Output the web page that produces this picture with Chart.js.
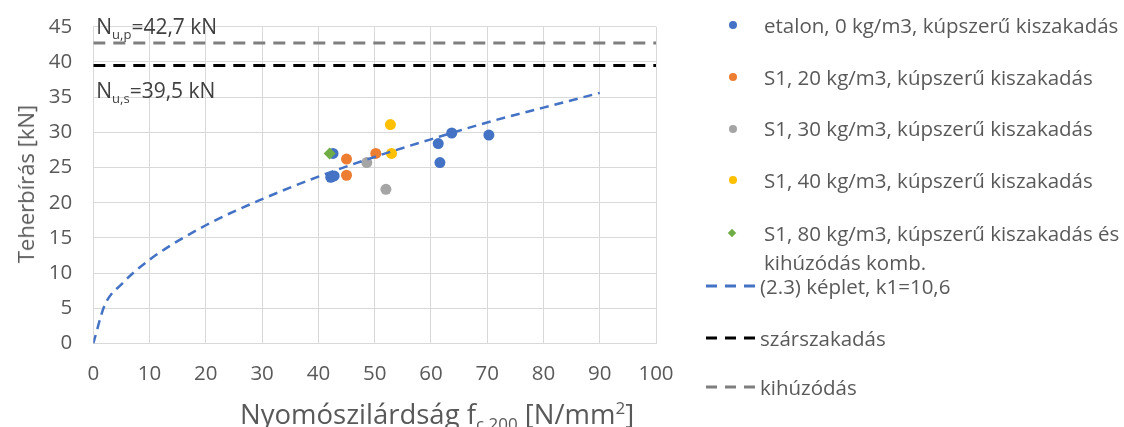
<!DOCTYPE html>
<html>
<head>
<meta charset="utf-8">
<script src="https://cdn.jsdelivr.net/npm/chart.js@4.4.1/dist/chart.umd.min.js"></script>
<style>
  html, body { margin: 0; padding: 0; background: #ffffff; }
  #wrap { position: relative; width: 1124px; height: 427px; overflow: hidden; font-family: "Open Sans", Lato, sans-serif; color: #595959; }
  #c { position: absolute; left: 0; top: 0; }
  .lg { position: absolute; left: 700px; font-size: 20.5px; white-space: nowrap; line-height: 29px; }
  .lg .mk { position: absolute; line-height: 0; }
  .lg .mk svg { display: block; }
  .lg .tx { position: absolute; left: 64px; top: 0; }
  #ytitle { position: absolute; left: 25px; top: 184px; transform: translate(-50%, -50%) rotate(-90deg); font-size: 22px; white-space: nowrap; line-height: 26px; }
  #xtitle { position: absolute; left: 240px; top: 392px; font-size: 27.5px; white-space: nowrap; line-height: 32px; }
  #xtitle sub { font-size: 17px; vertical-align: -6px; }
  #xtitle sup { font-size: 17px; vertical-align: 10px; }
</style>
</head>
<body>
<div id="wrap">
  <canvas id="c" width="1124" height="427"></canvas>
  <div id="ytitle">Teherbírás [kN]</div>
  <div id="xtitle">Nyomószilárdság f<sub>c,200</sub> [N/mm<sup>2</sup>]</div>
  <div id="legend"></div>
</div>
<script>
// ---- data ----
const etalonX = [42.2, 42.8, 42.6, 61.3, 61.6, 63.7, 70.3];
const etalonY = [23.6, 23.8, 27.0, 28.4, 25.7, 29.9, 29.6];
const s20X = [45.0, 45.0, 50.2];
const s20Y = [26.2, 23.9, 27.0];
const s30X = [48.6, 52.0];
const s30Y = [25.7, 21.9];
const s40X = [52.8, 53.0];
const s40Y = [31.1, 27.0];
const s80X = [42.0];
const s80Y = [27.0];
const curveX = [0, 2, 5, 10, 20, 30, 40, 50, 60, 70, 80, 90];
const curveY = [0, 5.4, 8.4, 11.9, 16.8, 20.5, 23.7, 26.5, 29.0, 31.4, 33.5, 35.6];
const limitX = [0, 100];
const szarY = [39.5, 39.5];
const kihuzY = [42.7, 42.7];
const xRange = [0, 100];
const xStep = 10;
const yRange = [0, 45];
const yStep = 5;
const labels = [
  'etalon, 0 kg/m3, kúpszerű kiszakadás',
  'S1, 20 kg/m3, kúpszerű kiszakadás',
  'S1, 30 kg/m3, kúpszerű kiszakadás',
  'S1, 40 kg/m3, kúpszerű kiszakadás',
  'S1, 80 kg/m3, kúpszerű kiszakadás és\nkihúzódás komb.',
  '(2.3) képlet, k1=10,6',
  'szárszakadás',
  'kihúzódás'
];
const nupLabel = ['N', 'u,p', '=42,7 kN'];
const nusLabel = ['N', 'u,s', '=39,5 kN'];

// ---- build ----
const pts = (xs, ys) => xs.map((x, i) => ({ x: x, y: ys[i] }));
const colors = ['#4472C4', '#ED7D31', '#A5A5A5', '#FFC000', '#70AD47', '#4472C4', '#000000', '#7F7F7F'];

function scatterDs(i, xs, ys, style, order) {
  return {
    label: labels[i], data: pts(xs, ys), showLine: false,
    pointStyle: style, pointRadius: style === 'rectRot' ? 6 : 5.5,
    backgroundColor: colors[i], borderColor: colors[i], borderWidth: 0, order: order
  };
}
function lineDs(i, xs, ys, dash, width, order) {
  return {
    label: labels[i], data: pts(xs, ys), showLine: true, pointRadius: 0,
    borderColor: colors[i], backgroundColor: colors[i], borderWidth: width,
    borderDash: dash, cubicInterpolationMode: 'monotone', order: order
  };
}

const datasets = [
  scatterDs(0, etalonX, etalonY, 'circle', 7),
  scatterDs(1, s20X, s20Y, 'circle', 6),
  scatterDs(2, s30X, s30Y, 'circle', 5),
  scatterDs(3, s40X, s40Y, 'circle', 4),
  scatterDs(4, s80X, s80Y, 'rectRot', 3),
  lineDs(5, curveX, curveY, [9, 6], 2.5, 2),
  lineDs(6, limitX, szarY, [12, 8], 3, 1),
  lineDs(7, limitX, kihuzY, [12, 8], 3, 0)
];

const FONT = '"Open Sans", Lato, sans-serif';

const annotPlugin = {
  id: 'annot',
  afterDatasetsDraw(chart) {
    const ctx = chart.ctx;
    const xs = chart.scales.x, ys = chart.scales.y;
    function drawSub(parts, x, baseline) {
      ctx.save();
      ctx.fillStyle = '#404040';
      ctx.textBaseline = 'alphabetic';
      ctx.textAlign = 'left';
      ctx.font = '21px ' + FONT;
      ctx.fillText(parts[0], x, baseline);
      let cx = x + ctx.measureText(parts[0]).width;
      ctx.font = '13px ' + FONT;
      ctx.fillText(parts[1], cx, baseline + 5);
      cx += ctx.measureText(parts[1]).width;
      ctx.font = '21px ' + FONT;
      ctx.fillText(parts[2], cx, baseline);
      ctx.restore();
    }
    const x0 = xs.getPixelForValue(xRange[0]) + 3;
    drawSub(nupLabel, x0, ys.getPixelForValue(kihuzY[0]) - 9);
    drawSub(nusLabel, x0, ys.getPixelForValue(szarY[0]) + 33);
  }
};

function zeroPad(s) { s.paddingTop = 0; s.paddingBottom = 0; s.paddingLeft = 0; s.paddingRight = 0; }

new Chart(document.getElementById('c'), {
  type: 'scatter',
  data: { datasets: datasets },
  options: {
    responsive: false,
    animation: false,
    events: [],
    layout: { padding: { left: 0, top: 26.7, right: 468, bottom: 0 } },
    plugins: { legend: { display: false }, tooltip: { enabled: false } },
    scales: {
      x: {
        type: 'linear', min: xRange[0], max: xRange[1],
        ticks: { stepSize: xStep, color: '#595959', font: { family: FONT, size: 20.5 }, padding: 18, maxRotation: 0 },
        grid: { color: '#D9D9D9', lineWidth: 1, drawTicks: false },
        border: { color: '#D9D9D9', width: 1 },
        afterFit(s) { s.height = 83.5; zeroPad(s); }
      },
      y: {
        type: 'linear', min: yRange[0], max: yRange[1],
        ticks: { stepSize: yStep, color: '#595959', font: { family: FONT, size: 20.5 }, padding: 21 },
        grid: { color: '#D9D9D9', lineWidth: 1, drawTicks: false },
        border: { color: '#D9D9D9', width: 1 },
        afterFit(s) { s.width = 93.3; zeroPad(s); }
      }
    }
  },
  plugins: [annotPlugin]
});

// ---- HTML legend ----
const legendY = [25, 77, 128.5, 180, 233, 286, 338, 387];
const legend = document.getElementById('legend');
datasets.forEach((ds, i) => {
  const item = document.createElement('div');
  item.className = 'lg';
  item.style.top = (legendY[i] - 14.5) + 'px';
  const mk = document.createElement('div');
  mk.className = 'mk';
  if (ds.showLine) {
    mk.innerHTML = '<svg width="54" height="6" xmlns="http://www.w3.org/2000/svg"><line x1="0" y1="3" x2="54" y2="3" stroke="' + ds.borderColor + '" stroke-width="3" stroke-dasharray="11,8"/></svg>';
    mk.style.left = '6px';
    mk.style.top = '11.5px';
  } else if (ds.pointStyle === 'rectRot') {
    mk.style.left = '29px'; mk.style.top = '11.5px';
    mk.style.width = '6px'; mk.style.height = '6px';
    mk.style.background = ds.backgroundColor;
    mk.style.transform = 'rotate(45deg)';
  } else {
    mk.style.left = '28.5px'; mk.style.top = '10.5px';
    mk.style.width = '8px'; mk.style.height = '8px';
    mk.style.borderRadius = '50%';
    mk.style.background = ds.backgroundColor;
  }
  item.appendChild(mk);
  const tx = document.createElement('div');
  tx.className = 'tx';
  if (ds.showLine) tx.style.left = '60px';
  tx.innerHTML = ds.label.split('\n').join('<br>');
  item.appendChild(tx);
  legend.appendChild(item);
});
</script>
</body>
</html>
